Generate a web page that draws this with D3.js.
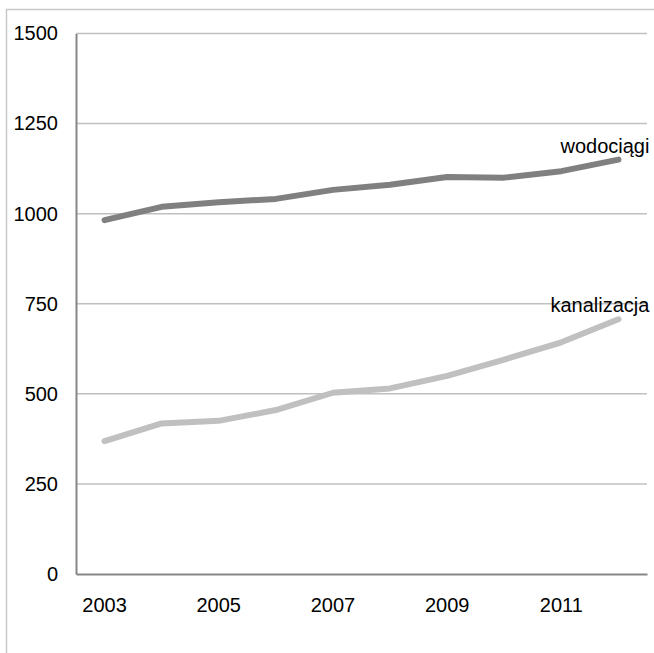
<!DOCTYPE html>
<html>
<head>
<meta charset="utf-8">
<script src="https://cdn.jsdelivr.net/npm/d3@7"></script>
<style>
  body { margin: 0; background: #fff; }
  svg { display: block; font-family: "Liberation Sans", Arial, sans-serif; }
</style>
</head>
<body>
<div id="chart"></div>
<script>
const years = [2003, 2004, 2005, 2006, 2007, 2008, 2009, 2010, 2011, 2012];
const wodociagi = [982, 1019, 1032, 1041, 1066, 1080, 1102, 1100, 1118, 1150];
const kanalizacja = [369, 418, 425, 455, 503, 515, 550, 595, 643, 707];
const yTicks = [0, 250, 500, 750, 1000, 1250, 1500];
const xTickLabels = [2003, 2005, 2007, 2009, 2011];
const seriesNames = ["wodociągi", "kanalizacja"];

const width = 654, height = 653;
const margin = { top: 33.5, right: 7, bottom: 79, left: 76 };

const svg = d3.select("#chart").append("svg")
  .attr("width", width)
  .attr("height", height);

// outer frame (cropped at right and bottom)
svg.append("rect")
  .attr("x", 6.5).attr("y", 9.5)
  .attr("width", width).attr("height", height)
  .attr("fill", "none")
  .attr("stroke", "#c8c8c8")
  .attr("stroke-width", 1.5);

const x = d3.scaleBand()
  .domain(years)
  .range([margin.left, width - margin.right]);

const y = d3.scaleLinear()
  .domain([0, 1500])
  .range([height - margin.bottom, margin.top]);

// gridlines
svg.append("g")
  .selectAll("line")
  .data(yTicks.filter(d => d > 0))
  .enter()
  .append("line")
  .attr("x1", margin.left).attr("x2", width - margin.right)
  .attr("y1", d => y(d)).attr("y2", d => y(d))
  .attr("stroke", "#c0c0c0")
  .attr("stroke-width", 1.5);

// y axis
const yAxis = svg.append("g")
  .attr("transform", `translate(${margin.left},0)`)
  .call(d3.axisLeft(y).tickValues(yTicks).tickSize(0).tickPadding(18)
    .tickFormat(d3.format("d")));
yAxis.select(".domain").attr("stroke", "#868686").attr("stroke-width", 2);
yAxis.selectAll("text")
  .attr("font-size", 20)
  .attr("fill", "#000")
  .attr("font-family", "Liberation Sans, Arial, sans-serif");

// x axis
const xAxis = svg.append("g")
  .attr("transform", `translate(0,${y(0)})`)
  .call(d3.axisBottom(x).tickValues(xTickLabels).tickSize(0).tickPadding(24)
    .tickFormat(d3.format("d")));
xAxis.select(".domain").attr("stroke", "#868686").attr("stroke-width", 2);
xAxis.selectAll("text")
  .attr("font-size", 20)
  .attr("fill", "#000")
  .attr("font-family", "Liberation Sans, Arial, sans-serif");

const line = d3.line()
  .x((d, i) => x(years[i]) + x.bandwidth() / 2)
  .y(d => y(d));

const series = [
  { name: seriesNames[0], values: wodociagi, color: "#808080" },
  { name: seriesNames[1], values: kanalizacja, color: "#c0c0c0" }
];

svg.append("g")
  .selectAll("path")
  .data(series)
  .enter()
  .append("path")
  .attr("d", d => line(d.values))
  .attr("fill", "none")
  .attr("stroke", d => d.color)
  .attr("stroke-width", 6)
  .attr("stroke-linecap", "round")
  .attr("stroke-linejoin", "round");

// series labels near the last point
svg.append("g")
  .selectAll("text")
  .data(series)
  .enter()
  .append("text")
  .attr("x", d => x(years[years.length - 1]) + x.bandwidth() / 2 + 31)
  .attr("y", d => y(d.values[d.values.length - 1]) - 7)
  .attr("text-anchor", "end")
  .attr("font-size", 20)
  .attr("fill", "#000")
  .text(d => d.name);
</script>
</body>
</html>
